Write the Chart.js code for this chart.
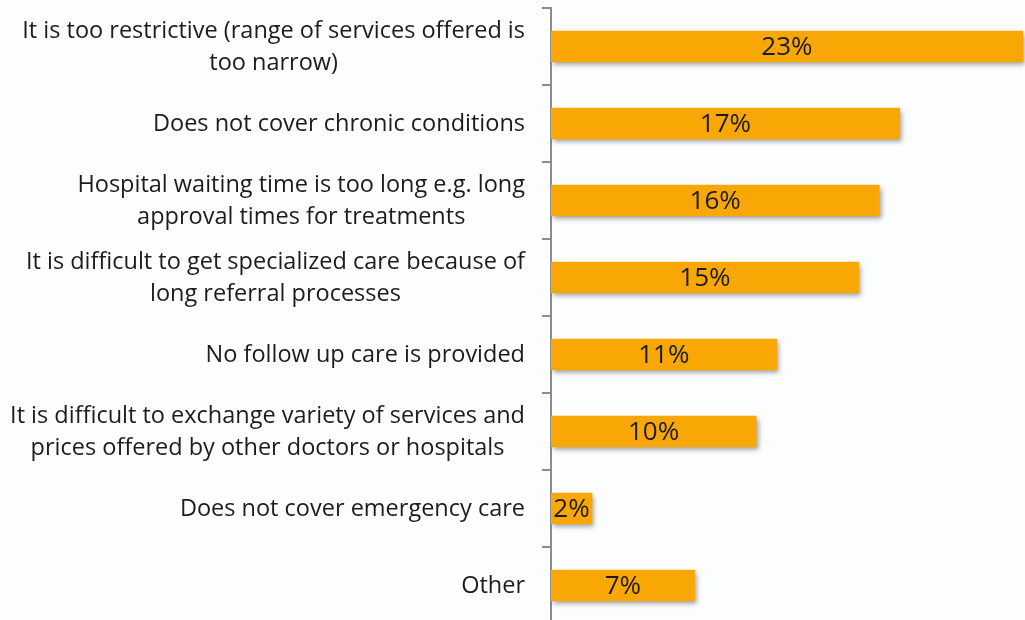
<!DOCTYPE html>
<html>
<head>
<meta charset="utf-8">
<script src="https://cdn.jsdelivr.net/npm/chart.js@4"></script>
<style>
  html, body { margin: 0; padding: 0; background: #fcfdfe; overflow: hidden; }
  #wrap { position: relative; width: 1025px; height: 632px; }
</style>
</head>
<body>
<div id="wrap"><canvas id="chart"></canvas></div>
<script>
const categories = [
  ['It is too restrictive (range of services offered is', 'too narrow)'],
  ['Does not cover chronic conditions'],
  ['Hospital waiting time is too long e.g. long', 'approval times for treatments'],
  ['It is difficult to get specialized care because of', 'long referral processes'],
  ['No follow up care is provided'],
  ['It is difficult to exchange variety of services and', 'prices offered by other doctors or hospitals'],
  ['Does not cover emergency care'],
  ['Other']
]
const shares = [23, 17, 16, 15, 11, 10, 2, 7]

const FONT = '"Open Sans", "DejaVu Sans", sans-serif'
const TEXT = '#1c1c1c'

// soft drop shadow under the bars
const barShadow = {
  id: 'barShadow',
  beforeDatasetsDraw(chart) {
    const ctx = chart.ctx
    ctx.save()
    ctx.shadowColor = 'rgba(0, 0, 0, 0.38)'
    ctx.shadowBlur = 5
    ctx.shadowOffsetX = 2
    ctx.shadowOffsetY = 3
  },
  afterDatasetsDraw(chart) {
    chart.ctx.restore()
  }
}

// category labels: block right-aligned next to the axis, lines centred within the block
const categoryLabels = {
  id: 'categoryLabels',
  afterDraw(chart) {
    const ctx = chart.ctx
    const y = chart.scales.y
    const right = y.right - 26
    const lineHeight = 32
    ctx.save()
    ctx.font = '23.5px ' + FONT
    ctx.fillStyle = TEXT
    ctx.textAlign = 'center'
    ctx.textBaseline = 'middle'
    categories.forEach((lines, i) => {
      const widest = Math.max(...lines.map(l => ctx.measureText(l).width))
      const cx = right - widest / 2
      const cy = y.getPixelForValue(i) + 1
      lines.forEach((line, j) => {
        ctx.fillText(line, cx, cy + (j - (lines.length - 1) / 2) * lineHeight)
      })
    })
    ctx.restore()
  }
}

// percentage in the middle of each bar
const valueLabels = {
  id: 'valueLabels',
  afterDatasetsDraw(chart) {
    const ctx = chart.ctx
    const meta = chart.getDatasetMeta(0)
    ctx.save()
    ctx.font = '26px ' + FONT
    ctx.fillStyle = TEXT
    ctx.textAlign = 'center'
    ctx.textBaseline = 'middle'
    meta.data.forEach((bar, i) => {
      ctx.fillText(shares[i] + '%', (bar.x + bar.base) / 2, bar.y + 1)
    })
    ctx.restore()
  }
}

new Chart(document.getElementById('chart'), {
  type: 'bar',
  data: {
    labels: categories,
    datasets: [{
      data: shares,
      backgroundColor: '#f9a704',
      borderWidth: 0,
      barThickness: 31
    }]
  },
  options: {
    indexAxis: 'y',
    responsive: true,
    maintainAspectRatio: false,
    animation: false,
    layout: { padding: { top: 8, bottom: 8, left: 0, right: 0 } },
    plugins: {
      legend: { display: false },
      tooltip: { enabled: false }
    },
    scales: {
      x: {
        display: false,
        min: 0,
        max: 23.1
      },
      y: {
        afterFit(scale) { scale.width = 551 },
        ticks: { display: false },
        grid: {
          drawOnChartArea: false,
          drawTicks: true,
          tickLength: 9,
          color: '#8c8c8c',
          lineWidth: 2
        },
        border: { color: '#8c8c8c', width: 2 }
      }
    }
  },
  plugins: [barShadow, valueLabels, categoryLabels]
})
</script>
</body>
</html>
